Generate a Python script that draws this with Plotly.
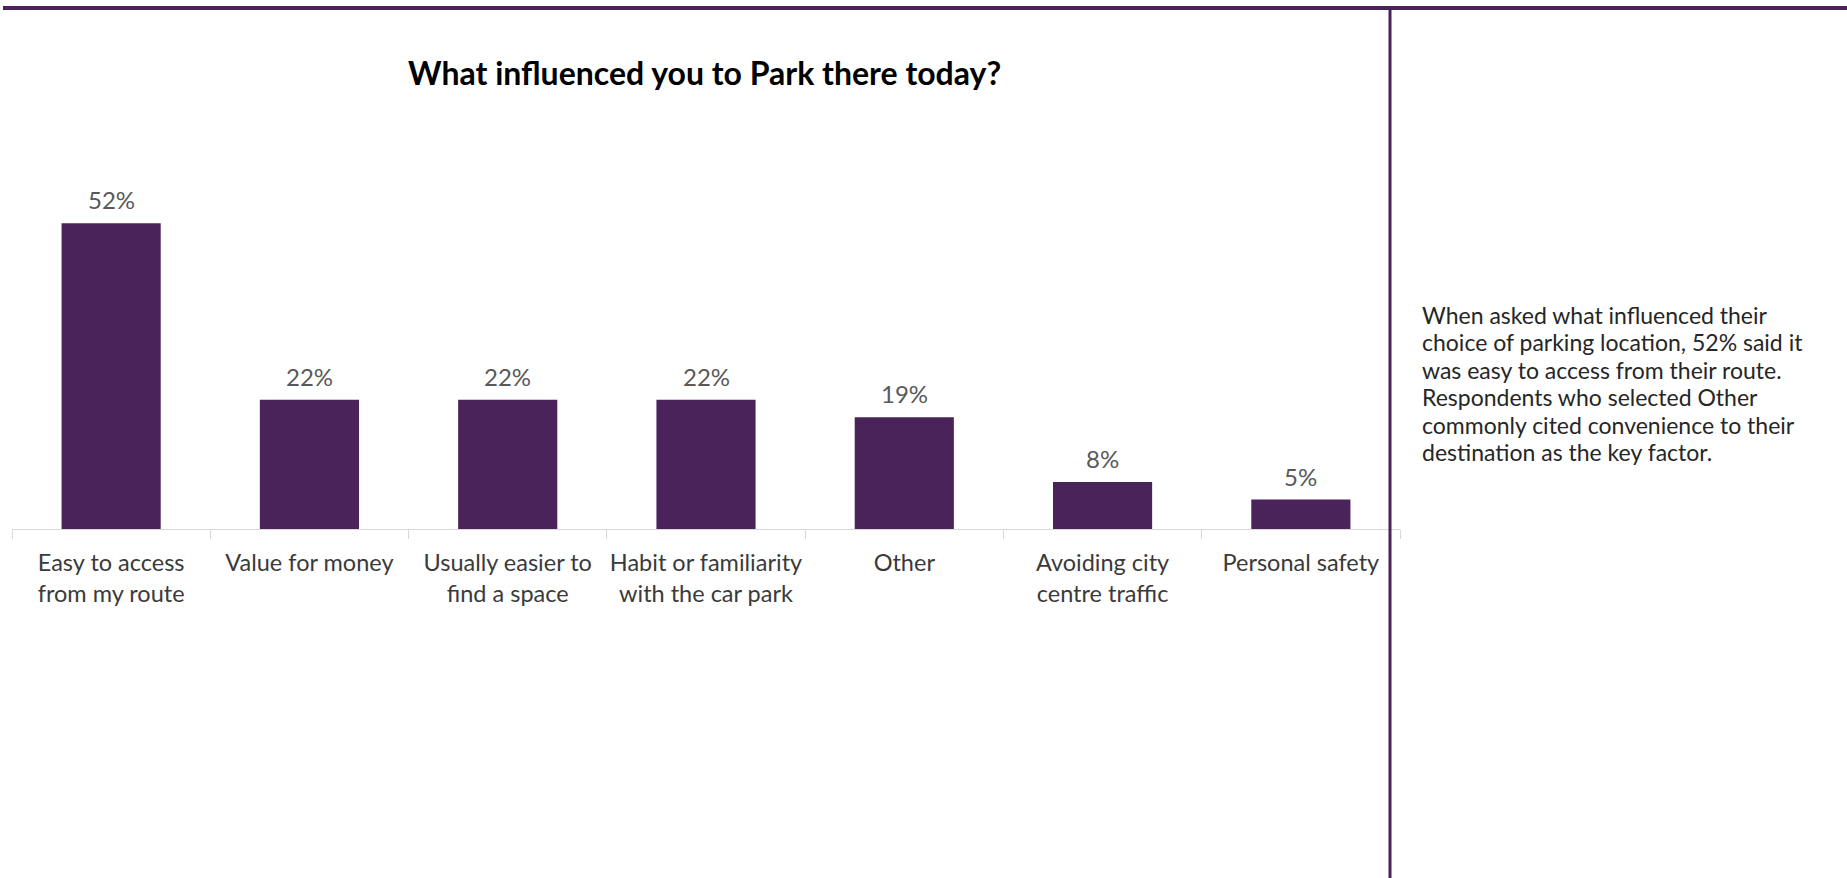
import plotly.graph_objects as go

# Survey results: reasons for choosing the parking location
categories = [
    "Easy to access<br>from my route",
    "Value for money",
    "Usually easier to<br>find a space",
    "Habit or familiarity<br>with the car park",
    "Other",
    "Avoiding city<br>centre traffic",
    "Personal safety",
]
percent = [52, 22, 22, 22, 19, 8, 5]

title_text = "What influenced you to Park there today?"
summary_lines = [
    "When asked what influenced their",
    "choice of parking location, 52% said it",
    "was easy to access from their route.",
    "Respondents who selected Other",
    "commonly cited convenience to their",
    "destination as the key factor.",
]

W, H = 1847, 878
PURPLE = "#4A235A"
FONT = "Lato"

fig = go.Figure()
fig.add_trace(go.Bar(
    x=categories,
    y=percent,
    marker=dict(color=PURPLE, line=dict(width=0)),
    hoverinfo="skip",
    showlegend=False,
))

# value labels above each bar
for cat, v in zip(categories, percent):
    fig.add_annotation(
        x=cat, y=v, xref="x", yref="y",
        text=f"{v}%", showarrow=False,
        yanchor="bottom", yshift=7,
        font=dict(family=FONT, size=24, color="#595959"),
    )

# chart title
fig.add_annotation(
    x=704 / W, y=1 - 72 / H, xref="paper", yref="paper",
    text=f"<b>{title_text}</b>", showarrow=False,
    xanchor="center", yanchor="middle",
    font=dict(family=FONT, size=32, color="#000000"),
)

# commentary panel on the right, one line at a time
line_gap = 27.4
for i, line in enumerate(summary_lines):
    fig.add_annotation(
        x=1420 / W, y=1 - (315 + i * line_gap) / H,
        xref="paper", yref="paper",
        text=line, showarrow=False,
        xanchor="left", yanchor="middle",
        font=dict(family=FONT, size=23, color="#262626"),
    )

# purple frame lines
fig.add_shape(type="line", xref="paper", yref="paper",
              x0=3 / W, x1=1, y0=1 - 8 / H, y1=1 - 8 / H,
              line=dict(color=PURPLE, width=4))
fig.add_shape(type="line", xref="paper", yref="paper",
              x0=1390 / W, x1=1390 / W, y0=1 - 8 / H, y1=0,
              line=dict(color=PURPLE, width=3))

fig.update_layout(
    width=W, height=H,
    margin=dict(l=0, r=0, t=0, b=0),
    paper_bgcolor="white", plot_bgcolor="white",
    bargap=0.5,
    xaxis=dict(
        domain=[12 / W, 1400 / W],
        showline=True, linecolor="#D9D9D9", linewidth=1,
        ticks="outside", tickson="boundaries", ticklen=9,
        tickcolor="#D9D9D9", tickwidth=1,
        showgrid=False, zeroline=False,
        tickangle=0, automargin=False,
        tickfont=dict(family=FONT, size=23.5, color="#3A3A3A"),
        ticklabelstandoff=13,
        fixedrange=True,
    ),
    yaxis=dict(
        domain=[1 - 529 / H, 1 - 176.2 / H],
        range=[0, 60], visible=False, fixedrange=True,
    ),
)

fig.write_html("out.html")
